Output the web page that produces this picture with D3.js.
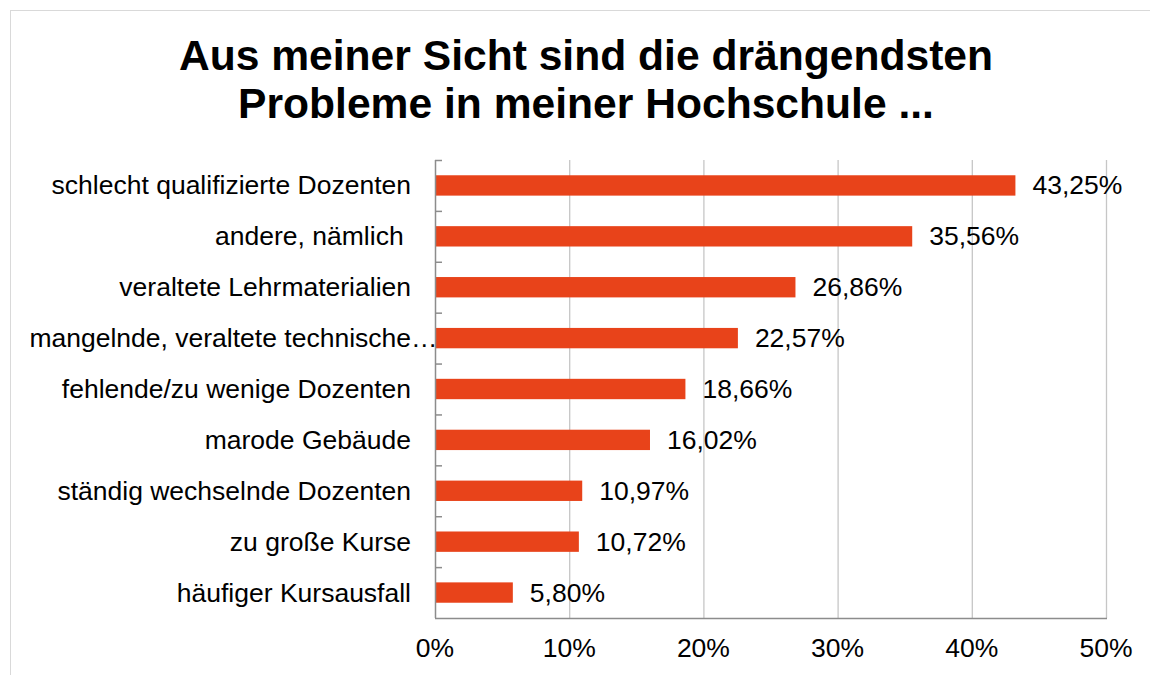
<!DOCTYPE html>
<html>
<head>
<meta charset="utf-8">
<script src="https://cdn.jsdelivr.net/npm/d3@7"></script>
<style>
  html, body { margin: 0; padding: 0; background: #fff; }
  svg { display: block; font-family: "Liberation Sans", Arial, sans-serif; }
  text { white-space: pre; }
</style>
</head>
<body>
<svg id="chart" width="1150" height="675"></svg>
<script>
const titleLines = ["Aus meiner Sicht sind die drängendsten", "Probleme in meiner Hochschule ..."];
const categories = [
  "schlecht qualifizierte Dozenten",
  "andere, nämlich ",
  "veraltete Lehrmaterialien",
  "mangelnde, veraltete technische…",
  "fehlende/zu wenige Dozenten",
  "marode Gebäude",
  "ständig wechselnde Dozenten",
  "zu große Kurse",
  "häufiger Kursausfall"
];
const values = [43.25, 35.56, 26.86, 22.57, 18.66, 16.02, 10.97, 10.72, 5.80];
const valueLabels = ["43,25%", "35,56%", "26,86%", "22,57%", "18,66%", "16,02%", "10,97%", "10,72%", "5,80%"];
const xTicks = [0, 10, 20, 30, 40, 50];
const xTickLabels = ["0%", "10%", "20%", "30%", "40%", "50%"];

const svg = d3.select("#chart");
const W = 1150, H = 675;
const plot = { left: 435, right: 1106, top: 160, bottom: 618 };
const FS = 26.5;

// frame
svg.append("rect").attr("x", 10.5).attr("y", 10.5).attr("width", W).attr("height", H)
  .attr("fill", "#fff").attr("stroke", "#d9d9d9").attr("stroke-width", 1);

// title
svg.append("g").selectAll("text").data(titleLines).join("text")
  .attr("x", 586).attr("y", (d, i) => 70 + i * 48)
  .attr("text-anchor", "middle")
  .attr("font-size", 42.6).attr("font-weight", "bold").attr("fill", "#000")
  .text(d => d);

const x = d3.scaleLinear().domain([0, 50]).range([plot.left, plot.right]);
const y = d3.scaleBand().domain(categories).range([plot.top, plot.bottom])
  .paddingInner(0.6).paddingOuter(0.3);

// gridlines
svg.append("g").selectAll("line").data(xTicks.filter(t => t > 0)).join("line")
  .attr("x1", d => x(d) + 0.5).attr("x2", d => x(d) + 0.5)
  .attr("y1", plot.top).attr("y2", plot.bottom)
  .attr("stroke", "#c6c6c6").attr("stroke-width", 1.3);

// bars
svg.append("g").selectAll("rect").data(values).join("rect")
  .attr("x", x(0)).attr("y", (d, i) => y(categories[i]))
  .attr("width", d => x(d) - x(0)).attr("height", y.bandwidth())
  .attr("fill", "#E8431A");

// value labels
svg.append("g").selectAll("text").data(values).join("text")
  .attr("x", d => x(d) + 17)
  .attr("y", (d, i) => y(categories[i]) + y.bandwidth() / 2 + 9)
  .attr("font-size", FS).attr("fill", "#000")
  .text((d, i) => valueLabels[i]);

// left axis
const step = y.step();
const gap = step * y.paddingInner() / 2;
svg.append("line").attr("x1", plot.left + 0.5).attr("x2", plot.left + 0.5)
  .attr("y1", plot.top).attr("y2", plot.bottom)
  .attr("stroke", "#8c8c8c").attr("stroke-width", 1.5);
svg.append("g").selectAll("line").data(categories).join("line")
  .attr("x1", plot.left).attr("x2", plot.left + 7)
  .attr("y1", d => y(d) - gap + 0.5).attr("y2", d => y(d) - gap + 0.5)
  .attr("stroke", "#8c8c8c").attr("stroke-width", 1.5);

// bottom axis
svg.append("line").attr("x1", plot.left).attr("x2", plot.right + 1)
  .attr("y1", plot.bottom + 0.5).attr("y2", plot.bottom + 0.5)
  .attr("stroke", "#8c8c8c").attr("stroke-width", 1.5);

// category labels
const catG = svg.append("g");
categories.forEach((c, i) => {
  const ell = c.endsWith("…");
  const yy = y(c) + y.bandwidth() / 2 + 9;
  catG.append("text")
    .attr("x", 411).attr("y", yy)
    .attr("font-size", FS).attr("fill", "#000")
    .attr("text-anchor", "end")
    .text(ell ? c.slice(0, -1) : c);
  if (ell) {
    catG.append("text").attr("x", 411).attr("y", yy)
      .attr("font-size", FS).attr("fill", "#000").text("…");
  }
});

// x tick labels
svg.append("g").selectAll("text").data(xTicks).join("text")
  .attr("x", d => x(d)).attr("y", 657)
  .attr("text-anchor", "middle").attr("font-size", FS).attr("fill", "#000")
  .text((d, i) => xTickLabels[i]);
</script>
</body>
</html>
